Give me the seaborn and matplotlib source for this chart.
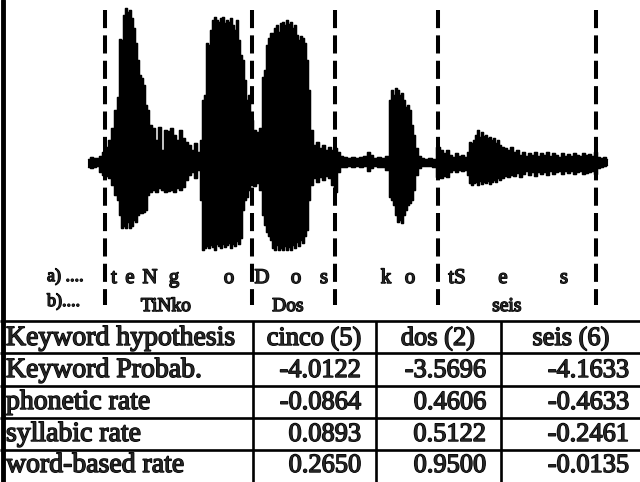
import matplotlib
matplotlib.use("Agg")
import matplotlib.pyplot as plt
import matplotlib.patheffects as pe
import matplotlib.transforms as mtransforms
import seaborn as sns

# Speech waveform envelope: analysis frame, positive and negative peak amplitude
frame = [0, 3, 6, 9, 12, 15, 18, 21, 24, 27, 30, 32, 34, 36, 38, 40, 42, 44, 46, 48,
         50, 52, 54, 56, 58, 60, 62, 65, 68, 71, 74, 77, 80, 83, 86, 89, 92, 95, 98, 101,
         104, 107, 110, 113, 115, 117, 119, 121, 123, 125, 127, 129, 131, 133, 135, 137, 139, 141, 143, 145,
         147, 149, 151, 153, 155, 157, 159, 161, 163, 166, 169, 172, 175, 177, 179, 181, 183, 185, 187, 189,
         191, 193, 195, 197, 199, 201, 203, 205, 207, 209, 211, 213, 215, 217, 219, 221, 223, 226, 229, 232,
         235, 238, 241, 244, 247, 250, 253, 257, 261, 265, 269, 273, 277, 280, 283, 287, 291, 295, 299, 302,
         304, 306, 308, 310, 312, 314, 316, 318, 320, 322, 324, 326, 328, 331, 334, 338, 342, 346, 350, 353,
         356, 359, 362, 365, 368, 371, 374, 377, 380, 382, 384, 386, 388, 390, 392, 394, 396, 398, 400, 402,
         404, 406, 408, 410, 412, 414, 417, 420, 423, 426, 429, 432, 435, 438, 441, 444, 447, 450, 453, 456,
         459, 462, 465, 468, 471, 474, 477, 480, 483, 486, 489, 492, 495, 498, 501, 504, 507, 510, 513, 516,
         519]
upper = [3, 5, 4, 4, 6, 10, 15, 22, 34, 52, 65, 123, 122, 147, 154, 150, 152, 144, 134, 119,
         102, 87, 84, 77, 57, 52, 37, 34, 22, 35, 12, 32, 31, 34, 27, 22, 32, 24, 20, 17,
         12, 19, 10, 22, 62, 67, 119, 117, 132, 142, 145, 142, 140, 144, 145, 139, 142, 140, 144, 137,
         132, 142, 122, 107, 102, 82, 62, 67, 42, 32, 30, 34, 85, 92, 117, 124, 129, 129, 134, 137,
         130, 139, 140, 137, 142, 138, 140, 134, 137, 127, 122, 126, 124, 119, 102, 72, 32, 17, 20, 14,
         17, 12, 15, 12, 14, 10, 6, 5, 4, 5, 4, 5, 6, 10, 7, 4, 5, 4, 6, 62,
         72, 67, 74, 72, 67, 69, 62, 55, 57, 52, 37, 27, 14, 6, 4, 3, 4, 3, 15, 12,
         9, 12, 7, 5, 9, 6, 7, 5, 10, 20, 19, 22, 27, 32, 25, 30, 26, 27, 24, 25,
         22, 24, 19, 22, 17, 15, 14, 12, 15, 10, 12, 7, 10, 6, 9, 7, 10, 6, 9, 7,
         10, 6, 9, 7, 5, 9, 6, 8, 6, 9, 7, 6, 9, 7, 8, 6, 10, 5, 4, 5,
         3]
lower = [-5, -6, -5, -4, -10, -13, -14, -16, -23, -33, -38, -53, -66, -64, -66, -60, -66, -64, -58, -60,
         -53, -51, -51, -50, -48, -33, -30, -28, -30, -26, -28, -30, -29, -28, -30, -26, -28, -25, -18, -13,
         -10, -16, -8, -38, -88, -86, -84, -86, -83, -85, -88, -82, -84, -86, -82, -85, -83, -81, -86, -82,
         -84, -79, -82, -76, -48, -38, -35, -28, -23, -24, -21, -28, -53, -63, -70, -74, -78, -86, -88, -83,
         -88, -86, -88, -84, -88, -85, -88, -83, -86, -80, -84, -78, -81, -74, -68, -38, -23, -16, -20, -15,
         -18, -14, -16, -23, -30, -10, -5, -5, -4, -5, -4, -5, -4, -9, -6, -4, -5, -5, -8, -35,
         -38, -43, -53, -60, -58, -61, -53, -48, -43, -41, -38, -28, -13, -6, -4, -4, -4, -5, -15, -16,
         -14, -15, -10, -8, -10, -8, -9, -8, -13, -21, -23, -21, -20, -23, -19, -22, -20, -21, -19, -22,
         -20, -18, -20, -16, -18, -16, -14, -15, -13, -14, -11, -15, -12, -9, -13, -10, -14, -10, -12, -10,
         -13, -9, -12, -10, -9, -12, -9, -11, -9, -12, -10, -9, -12, -11, -10, -9, -12, -6, -5, -4,
         -3]

# Keyword segment boundaries (frames)
boundaries = [17, 164, 247, 350, 508]

# a) phonetic transcription and b) word transcription, with centre frames
phones = ["t", "e", "N", "g", "o", "D", "o", "s", "k", "o", "tS", "e", "s"]
phone_frames = [26, 42, 62, 86, 141, 174, 208, 236, 298, 322, 369, 415, 476]
words = ["TiNko", "Dos", "seis"]
word_frames = [78, 200, 419]

# Keyword scores table
row_labels = ["Keyword hypothesis", "Keyword Probab.", "phonetic rate",
              "syllabic rate", "word-based rate"]
keywords = ["cinco (5)", "dos (2)", "seis (6)"]
keyword_prob = [-4.0122, -3.5696, -4.1633]
phonetic_rate = [-0.0864, 0.4606, -0.4633]
syllabic_rate = [0.0893, 0.5122, -0.2461]
word_rate = [0.2650, 0.9500, -0.0135]

sns.set_theme(style="white")
plt.rcParams["font.family"] = ["Liberation Serif", "DejaVu Serif"]

fig = plt.figure(figsize=(6.4, 4.82), dpi=100)
fig.patch.set_facecolor("white")

# Waveform panel
ax = fig.add_axes([0, 0, 1, 1])
ax.set_xlim(-88, 552)
ax.set_ylim(-320, 162)
ax.axis("off")
ax.fill_between(frame, lower, upper, step="mid", color="black", linewidth=0.8)
sns.lineplot(x=frame, y=upper, drawstyle="steps-mid", color="black", linewidth=1.0,
             ax=ax, legend=False)
sns.lineplot(x=frame, y=lower, drawstyle="steps-mid", color="black", linewidth=1.0,
             ax=ax, legend=False)
for b in boundaries:
    ax.plot([b, b], [152, -143], color="black", linewidth=2.9,
            linestyle=(0, (4.5, 1.8)), solid_capstyle="butt")

# Overlay in pixel units for the labels and the table
ov = fig.add_axes([0, 0, 1, 1], facecolor="none")
ov.set_xlim(0, 640)
ov.set_ylim(482, 0)
ov.axis("off")

heavy = [pe.withStroke(linewidth=1.0, foreground="black")]
mixed = mtransforms.blended_transform_factory(ax.transData, ov.transData)

ov.text(47, 281, "a) ....", fontsize=13, ha="left", va="baseline", path_effects=heavy)
ov.text(47, 306, "b)....", fontsize=13, ha="left", va="baseline", path_effects=heavy)
for p, f in zip(phones, phone_frames):
    ov.text(f, 283, p, transform=mixed, fontsize=15, ha="center", va="baseline",
            path_effects=heavy)
for w, f in zip(words, word_frames):
    ov.text(f, 311, w, transform=mixed, fontsize=14, ha="center", va="baseline",
            path_effects=heavy)

# Table grid
row_lines = [321, 353, 386, 418, 450]
col_lines = [253, 376, 501]
ov.hlines(row_lines, 0, 640, colors="black", linewidth=1.9)
ov.vlines(col_lines, 321, 482, colors="black", linewidth=1.9)
ov.plot([2.5, 2.5], [0, 482], color="black", linewidth=3.5)

baselines = [345, 377, 409, 441, 472]
centers = [314, 438, 571]
rights = [361, 486, 629]

for lab, yb in zip(row_labels, baselines):
    ov.text(6, yb, lab, fontsize=20, ha="left", va="baseline", path_effects=heavy)
for kw, xc in zip(keywords, centers):
    ov.text(xc, baselines[0], kw, fontsize=19, ha="center", va="baseline",
            path_effects=heavy)
for values, yb in zip([keyword_prob, phonetic_rate, syllabic_rate, word_rate], baselines[1:]):
    for v, xr in zip(values, rights):
        ov.text(xr, yb, f"{v:.4f}", fontsize=19, ha="right", va="baseline",
                path_effects=heavy)

fig.savefig("out.png", dpi=100, facecolor="white")
